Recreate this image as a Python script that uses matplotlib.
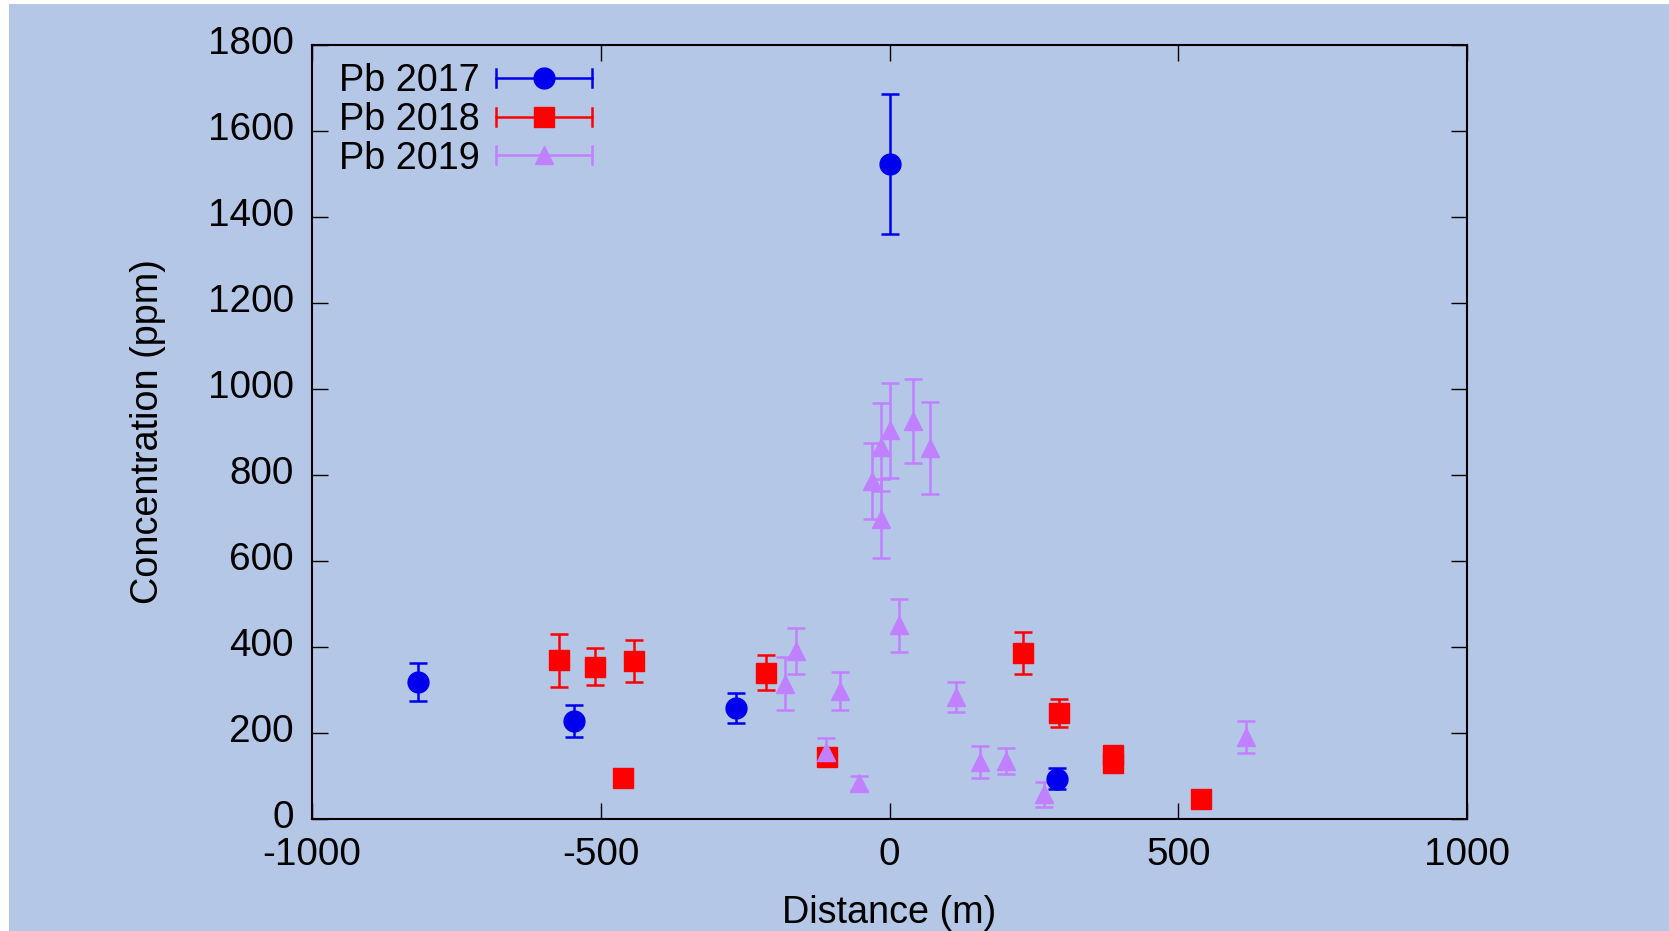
import matplotlib
matplotlib.use('Agg')
import matplotlib.pyplot as plt
from matplotlib.legend_handler import HandlerBase
from matplotlib.container import ErrorbarContainer
from matplotlib.lines import Line2D
from matplotlib.patches import Rectangle
from matplotlib.transforms import ScaledTranslation

plt.rcParams['font.family'] = ['Liberation Sans', 'DejaVu Sans']
plt.rcParams['axes.unicode_minus'] = False

# ---------------- data ----------------
labels = ['Pb 2017', 'Pb 2018', 'Pb 2019']

x2017 = [-816, -546, -266, 0, 290]
y2017 = [317, 226, 256, 1522, 93]
e2017 = [44, 37, 35, 163, 24]

x2018 = [-572, -510, -443, -462, -213, -108, 231, 293, 387, 387, 539]
y2018 = [368, 353, 367, 95, 339, 144, 384, 245, 148, 128, 45]
e2018 = [62, 43, 49, 10, 41, 12, 49, 32, 10, 10, 8]

x2019 = [-181, -162, -110, -86, -52, -30, -14, -14, 0, 16, 41, 70, 116, 157, 201, 268, 618]
y2019 = [314, 390, 154, 296, 83, 785, 864, 697, 903, 449, 925, 861, 283, 132, 134, 56, 190]
e2019 = [62, 54, 33, 44, 17, 89, 102, 92, 110, 62, 98, 107, 35, 37, 31, 30, 37]

xticks = [-1000, -500, 0, 500, 1000]
yticks = [0, 200, 400, 600, 800, 1000, 1200, 1400, 1600, 1800]

# ---------------- style ----------------
BG = '#b4c7e7'
W, H = 1669, 931
FS = 27.2

fig = plt.figure(figsize=(W / 100, H / 100), dpi=100, facecolor='white')
fig.patches.append(Rectangle((9 / W, 0), 1 - 9 / W, 1 - 4 / H, transform=fig.transFigure,
                             facecolor=BG, edgecolor='none', zorder=-10))

ax_l, ax_r, ax_t, ax_b = 312, 1467, 44.7, 818.5
ax = fig.add_axes([ax_l / W, 1 - ax_b / H, (ax_r - ax_l) / W, (ax_b - ax_t) / H])
ax.set_facecolor('none')

series = [
    (x2017, y2017, e2017, 'o', '#0000ee', 15),
    (x2018, y2018, e2018, 's', '#ff0000', 14.4),
    (x2019, y2019, e2019, '^', '#c080ff', 13),
]
containers = []
for (xs, ys, es, mk, col, ms), lab in zip(series, labels):
    c = ax.errorbar(xs, ys, yerr=es, fmt=mk, color=col, ms=ms, mec=col,
                    ecolor=col, elinewidth=1.8, capsize=6.5, capthick=1.8, label=lab)
    containers.append(c)

ax.set_xlim(-1000, 1000)
ax.set_ylim(0, 1800)
ax.set_xticks(xticks)
ax.set_yticks(yticks)
ax.tick_params(direction='in', length=11.4, width=1.0, top=True, right=True,
               labelsize=27.8, pad=13, colors='black')
for s in ax.spines.values():
    s.set_linewidth(1.5)

# y tick labels sit a little above their ticks, as in the reference
shift = ScaledTranslation(0, 3.5 / 72, fig.dpi_scale_trans)
for lbl in ax.get_yticklabels():
    lbl.set_transform(lbl.get_transform() + shift)

ax.set_xlabel('Distance (m)', fontsize=FS)
ax.set_ylabel('Concentration (ppm)', fontsize=FS)
ax.xaxis.set_label_coords(0.5, (ax_b - 913) / (ax_b - ax_t))
ax.xaxis.label.set_va('center')
ax.yaxis.set_label_coords((148 - ax_l) / (ax_r - ax_l), 0.5)
ax.yaxis.label.set_va('center')


class GPHandler(HandlerBase):
    def create_artists(self, legend, orig_handle, xdescent, ydescent, width, height, fontsize, trans):
        dl = orig_handle.lines[0]
        col = dl.get_color()
        y = height / 2 - ydescent
        x0, x1 = -xdescent, width - xdescent
        cap = 6.5
        arts = [
            Line2D([x0, x1], [y, y], color=col, lw=1.8),
            Line2D([x0, x0], [y - cap, y + cap], color=col, lw=1.8),
            Line2D([x1, x1], [y - cap, y + cap], color=col, lw=1.8),
            Line2D([(x0 + x1) / 2], [y], marker=dl.get_marker(), ms=dl.get_markersize(),
                   color=col, mec=col, ls='none'),
        ]
        for a in arts:
            a.set_transform(trans)
        return arts


ax.legend(handles=containers, labels=labels, handler_map={ErrorbarContainer: GPHandler()},
          loc='upper left', bbox_to_anchor=(0.023, 0.976), borderaxespad=0, borderpad=0,
          frameon=False, markerfirst=False, handlelength=2.54, handletextpad=0.45,
          labelspacing=0.07, fontsize=FS)

fig.savefig('out.png', dpi=100, facecolor=fig.get_facecolor())
